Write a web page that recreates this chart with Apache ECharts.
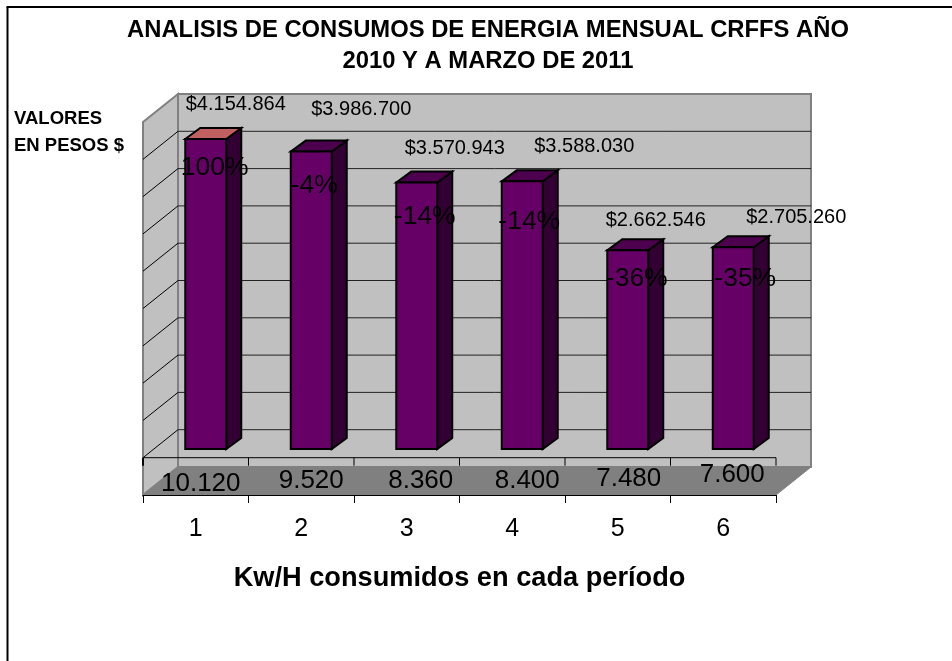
<!DOCTYPE html>
<html>
<head>
<meta charset="utf-8">
<style>
  html, body { margin: 0; padding: 0; background: #fff; }
  #chart { width: 952px; height: 661px; }
</style>
<script src="https://cdn.jsdelivr.net/npm/echarts@6/dist/echarts.min.js"></script>
</head>
<body>
<div id="chart"></div>
<script>
const categories = ["1", "2", "3", "4", "5", "6"];
const pesos = [4154864, 3986700, 3570943, 3588030, 2662546, 2705260];
const pesosLabels = ["$4.154.864", "$3.986.700", "$3.570.943", "$3.588.030", "$2.662.546", "$2.705.260"];
const percentLabels = ["100%", "-4%", "-14%", "-14%", "-36%", "-35%"];
const kwhLabels = ["10.120", "9.520", "8.360", "8.400", "7.480", "7.600"];
const gridTicks = [0, 500000, 1000000, 1500000, 2000000, 2500000, 3000000, 3500000, 4000000];

// los rotulos estan movidos a mano en el original
const pesosNudge = [[30, -35], [50, -42], [38, -34], [62, -35], [28, -30], [63, -30]];
const percentNudge = [[9, 29], [3, 34], [8, 34], [7, 40], [9, 28], [12, 31]];
const kwhNudge = [[5, 26], [10, 23], [14, 23], [15, 23], [11, 21], [9, 17]];

const FONT = '"Liberation Sans", Arial, sans-serif';
const depthX = 35, depthY = 28;      // fondo del grafico 3D
const barX = 10, barY = 8.7;         // cara frontal de la barra
const sideX = 15, sideY = 11;        // lado de la barra
const barWidth = 41;
const topColors = ["#c06060", "#4d004d", "#4d004d", "#4d004d", "#4d004d", "#4d004d"];

const poly = (points, fill, stroke, lineWidth) => ({
    type: "polygon",
    shape: { points: points },
    style: { fill: fill, stroke: stroke, lineWidth: lineWidth || 1 }
});
const line = (x1, y1, x2, y2, stroke, lineWidth) => ({
    type: "line",
    shape: { x1: x1, y1: y1, x2: x2, y2: y2 },
    style: { stroke: stroke, lineWidth: lineWidth || 1 }
});
const text = (x, y, str, size) => ({
    type: "text",
    style: {
        x: x, y: y, text: str, fill: "#000",
        font: size + "px " + FONT,
        align: "center", verticalAlign: "middle"
    }
});

const renderWalls = (params, api) => {
    const band = api.size([1, 0])[0];
    const left = api.coord([0, 0])[0] - band / 2;
    const right = left + band * categories.length;
    const bottom = api.coord([0, -500000])[1];
    const top = api.coord([0, 4500000])[1];
    const zeroY = api.coord([0, 0])[1];
    const children = [
        poly([[left + depthX, top - depthY], [right + depthX, top - depthY], [right + depthX, bottom - depthY], [left + depthX, bottom - depthY]], "#c0c0c0", "#808080", 2),
        poly([[left, top], [left + depthX, top - depthY], [left + depthX, bottom - depthY], [left, bottom]], "#c0c0c0", "#808080", 2)
    ];
    for (let v of gridTicks) {
        const y = api.coord([0, v])[1];
        children.push(line(left, y, left + depthX, y - depthY, "#000"));
        children.push(line(left + depthX, y - depthY, right + depthX, y - depthY, "#222"));
    }
    children.push(poly([[left + depthX, bottom - depthY], [right + depthX, bottom - depthY], [right, bottom], [left, bottom]], "#808080", "#808080"));
    // eje en el cero, por encima del piso
    children.push(line(left, zeroY, right, zeroY, "#000"));
    for (let i = 0; i <= categories.length; i++) {
        const x = left + band * i;
        children.push(line(x, zeroY, x, zeroY + 8, "#000", i === 0 ? 2 : 1));
    }
    return { type: "group", children: children };
};

const renderBar = (params, api) => {
    const i = api.value(0);
    const pt = api.coord([i, api.value(1)]);
    const base = api.coord([i, 0]);
    const x0 = pt[0] + barX - barWidth / 2;
    const x1 = x0 + barWidth;
    const y0 = pt[1] - barY;
    const y1 = base[1] - barY;
    return {
        type: "group",
        children: [
            poly([[x1, y0], [x1 + sideX, y0 - sideY], [x1 + sideX, y1 - sideY], [x1, y1]], "#330033", "#000", 2),
            poly([[x0, y0], [x0 + sideX, y0 - sideY], [x1 + sideX, y0 - sideY], [x1, y0]], topColors[i], "#000", 2),
            poly([[x0, y0], [x1, y0], [x1, y1], [x0, y1]], "#660066", "#000", 2)
        ]
    };
};

const renderLabels = (params, api) => {
    const i = api.value(0);
    const pt = api.coord([i, api.value(1)]);
    const cx = pt[0] + barX;
    const topY = pt[1] - barY;
    const zero = api.coord([i, 0]);
    return {
        type: "group",
        children: [
            text(cx + pesosNudge[i][0], topY + pesosNudge[i][1], pesosLabels[i], 20),
            text(cx + percentNudge[i][0], topY + percentNudge[i][1], percentLabels[i], 26.5),
            text(zero[0] + kwhNudge[i][0], zero[1] + kwhNudge[i][1], kwhLabels[i], 26)
        ]
    };
};

const barData = pesos.map((v, i) => [i, v]);

const option = {
    animation: false,
    backgroundColor: "#fff",
    title: [
        {
            text: "ANALISIS DE CONSUMOS DE ENERGIA MENSUAL CRFFS AÑO\n2010 Y A MARZO DE 2011",
            left: 483,
            top: 10,
            textAlign: "center",
            textStyle: { fontFamily: FONT, fontSize: 23.8, fontWeight: "bold", color: "#000", lineHeight: 31 }
        },
        {
            text: "VALORES\nEN PESOS $",
            left: 9,
            top: 100,
            textStyle: { fontFamily: FONT, fontSize: 18.5, fontWeight: "bold", color: "#000", lineHeight: 27 }
        }
    ],
    grid: { left: 143, right: 176, top: 122, bottom: 166 },
    xAxis: {
        type: "category",
        data: categories,
        name: "Kw/H consumidos en cada período",
        nameLocation: "middle",
        nameGap: 70,
        nameTextStyle: { fontFamily: FONT, fontSize: 27.2, fontWeight: "bold", color: "#000" },
        axisLine: { show: true, onZero: false, lineStyle: { color: "#000", width: 1 } },
        axisTick: { show: true, length: 8, lineStyle: { color: "#000" } },
        axisLabel: { margin: 22, fontFamily: FONT, fontSize: 25, color: "#000" },
        splitLine: { show: false },
        z: 5
    },
    yAxis: {
        type: "value",
        min: -500000,
        max: 4500000,
        interval: 500000,
        axisLine: { show: false },
        axisTick: { show: false },
        axisLabel: { show: false },
        splitLine: { show: false }
    },
    graphic: [
        { type: "line", silent: true, shape: { x1: 7.5, y1: 7, x2: 7.5, y2: 661 }, style: { stroke: "#000", lineWidth: 2 } },
        { type: "line", silent: true, shape: { x1: 6.5, y1: 7, x2: 952, y2: 7 }, style: { stroke: "#000", lineWidth: 2 } }
    ],
    series: [
        { type: "custom", name: "paredes", data: [[0, 0]], renderItem: renderWalls, clip: false, silent: true, z: 1 },
        { type: "custom", name: "barras", data: barData, renderItem: renderBar, clip: false, z: 2 },
        { type: "custom", name: "rotulos", data: barData, renderItem: renderLabels, clip: false, silent: true, z: 3 }
    ]
};

const chart = echarts.init(document.getElementById("chart"));
chart.setOption(option);
</script>
</body>
</html>
